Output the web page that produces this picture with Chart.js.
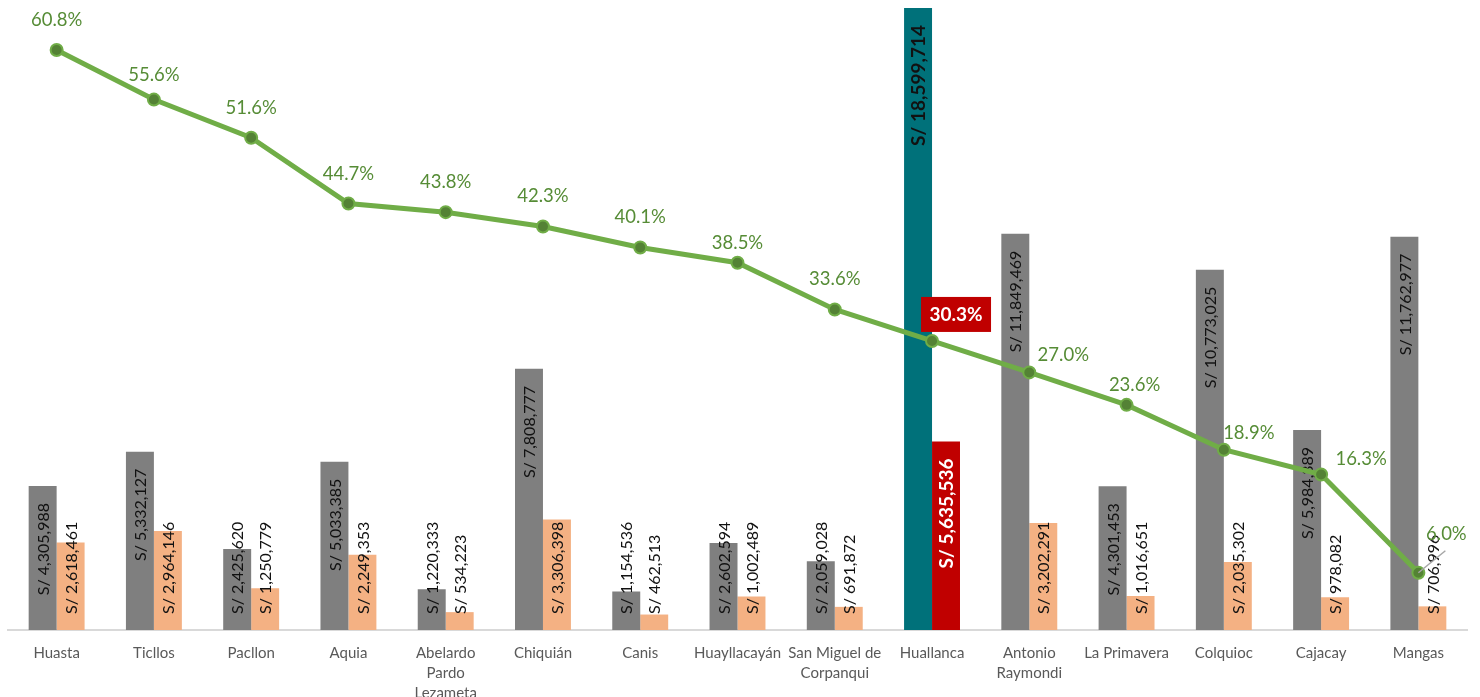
<!DOCTYPE html>
<html>
<head>
<meta charset="utf-8">
<script src="https://cdn.jsdelivr.net/npm/chart.js@4.4.1/dist/chart.umd.min.js"></script>
<style>
  html, body { margin: 0; padding: 0; background: #fff; }
  #wrap { width: 1480px; height: 697px; }
</style>
</head>
<body>
<div id="wrap"><canvas id="grafico"></canvas></div>
<script>
// Datos
const distritos = ['Huasta', 'Ticllos', 'Pacllon', 'Aquia', ['Abelardo', 'Pardo', 'Lezameta'], 'Chiquián', 'Canis',
    'Huayllacayán', ['San Miguel de', 'Corpanqui'], 'Huallanca', ['Antonio', 'Raymondi'], 'La Primavera',
    'Colquioc', 'Cajacay', 'Mangas'];
const presupuesto = [4305988, 5332127, 2425620, 5033385, 1220333, 7808777, 1154536, 2602594, 2059028,
    18599714, 11849469, 4301453, 10773025, 5984389, 11762977];
const ejecutado = [2618461, 2964146, 1250779, 2249353, 534223, 3306398, 462513, 1002489, 691872,
    5635536, 3202291, 1016651, 2035302, 978082, 706996];
const avance = [60.8, 55.6, 51.6, 44.7, 43.8, 42.3, 40.1, 38.5, 33.6, 30.3, 27.0, 23.6, 18.9, 16.3, 6.0];

const destacado = 9; // Huallanca

const colGris = presupuesto.map((v, i) => i === destacado ? '#00717a' : '#7f7f7f');
const colNaranja = ejecutado.map((v, i) => i === destacado ? '#c00000' : '#f4b183');

// desplazamiento de las etiquetas de porcentaje respecto al punto
const posPct = [[0, -30], [0, -25], [0, -30], [0, -30], [0, -30], [0, -30], [0, -30], [0, -20], [0, -30],
    [24, -27], [34, -17], [8, -20], [25, -17], [40, -15], [28, -39]];

function soles(v) {
    return 'S/ ' + v.toLocaleString('en-US');
}

// Etiquetas verticales dentro de las barras
const etiquetasBarras = {
    id: 'etiquetasBarras',
    afterDatasetDraw(chart, args) {
        const ds = chart.data.datasets[args.index];
        if (ds.type !== 'bar') return;
        const ctx = chart.ctx;
        args.meta.data.forEach((bar, i) => {
            const esta = i === destacado;
            ctx.save();
            ctx.font = (esta ? 'bold 19px' : '16px') + ' Lato';
            ctx.fillStyle = (esta && args.index === 1) ? '#ffffff' : '#111111';
            const txt = soles(ds.data[i]);
            const largo = ctx.measureText(txt).width;
            let y = bar.y + 17;
            if (y + largo > bar.base - 16) y = bar.base - 16 - largo;
            ctx.translate(bar.x, y);
            ctx.rotate(-Math.PI / 2);
            ctx.textAlign = 'right';
            ctx.textBaseline = 'middle';
            ctx.fillText(txt, 0, 1);
            ctx.restore();
        });
    }
};

// Etiquetas de porcentaje sobre la linea
const etiquetasPct = {
    id: 'etiquetasPct',
    afterDatasetsDraw(chart) {
        const ctx = chart.ctx;
        const meta = chart.getDatasetMeta(2);
        meta.data.forEach((p, i) => {
            const cx = p.x + posPct[i][0];
            const cy = p.y + posPct[i][1];
            const txt = avance[i].toFixed(1) + '%';
            ctx.save();
            ctx.textAlign = 'center';
            ctx.textBaseline = 'middle';
            if (i === destacado) {
                ctx.fillStyle = '#c00000';
                ctx.fillRect(cx - 35, cy - 17, 70, 35);
                ctx.font = 'bold 19px Lato';
                ctx.fillStyle = '#ffffff';
                ctx.fillText(txt, cx, cy + 1);
            } else {
                if (i === meta.data.length - 1) {
                    ctx.strokeStyle = '#a6a6a6';
                    ctx.lineWidth = 1.5;
                    ctx.beginPath();
                    ctx.moveTo(p.x, p.y);
                    ctx.lineTo(p.x + 27, p.y - 22);
                    ctx.stroke();
                }
                ctx.font = '18.5px Lato';
                ctx.fillStyle = '#568c36';
                ctx.fillText(txt, cx, cy);
            }
            ctx.restore();
        });
    }
};

const ctx = document.getElementById('grafico').getContext('2d');
new Chart(ctx, {
    type: 'bar',
    data: {
        labels: distritos,
        datasets: [{
            type: 'bar',
            label: 'Presupuesto',
            data: presupuesto,
            backgroundColor: colGris,
            yAxisID: 'y',
            order: 1,
            categoryPercentage: 0.575,
            barPercentage: 1
        }, {
            type: 'bar',
            label: 'Ejecutado',
            data: ejecutado,
            backgroundColor: colNaranja,
            yAxisID: 'y',
            order: 1,
            categoryPercentage: 0.575,
            barPercentage: 1
        }, {
            type: 'line',
            label: 'Avance',
            data: avance,
            yAxisID: 'y2',
            order: 0,
            borderColor: '#70ad47',
            borderWidth: 5,
            pointRadius: 6,
            pointBackgroundColor: '#548235',
            pointBorderColor: '#70ad47',
            pointBorderWidth: 2,
            tension: 0
        }]
    },
    options: {
        responsive: true,
        maintainAspectRatio: false,
        animation: false,
        layout: { padding: { left: 7, right: 13, top: 8, bottom: 0 } },
        plugins: {
            legend: { display: false },
            tooltip: { enabled: false }
        },
        scales: {
            x: {
                grid: { display: false },
                border: { display: true, color: '#d9d9d9', width: 2 },
                ticks: {
                    color: '#595959',
                    font: { family: 'Lato', size: 15, lineHeight: 1.35 },
                    padding: 5,
                    maxRotation: 0,
                    autoSkip: false
                },
                afterFit: scale => { scale.height = 67; }
            },
            y: { display: false, min: 0, max: 18600000 },
            y2: { display: false, min: 0, max: 65.2, position: 'right' }
        }
    },
    plugins: [etiquetasBarras, etiquetasPct]
});
</script>
</body>
</html>
